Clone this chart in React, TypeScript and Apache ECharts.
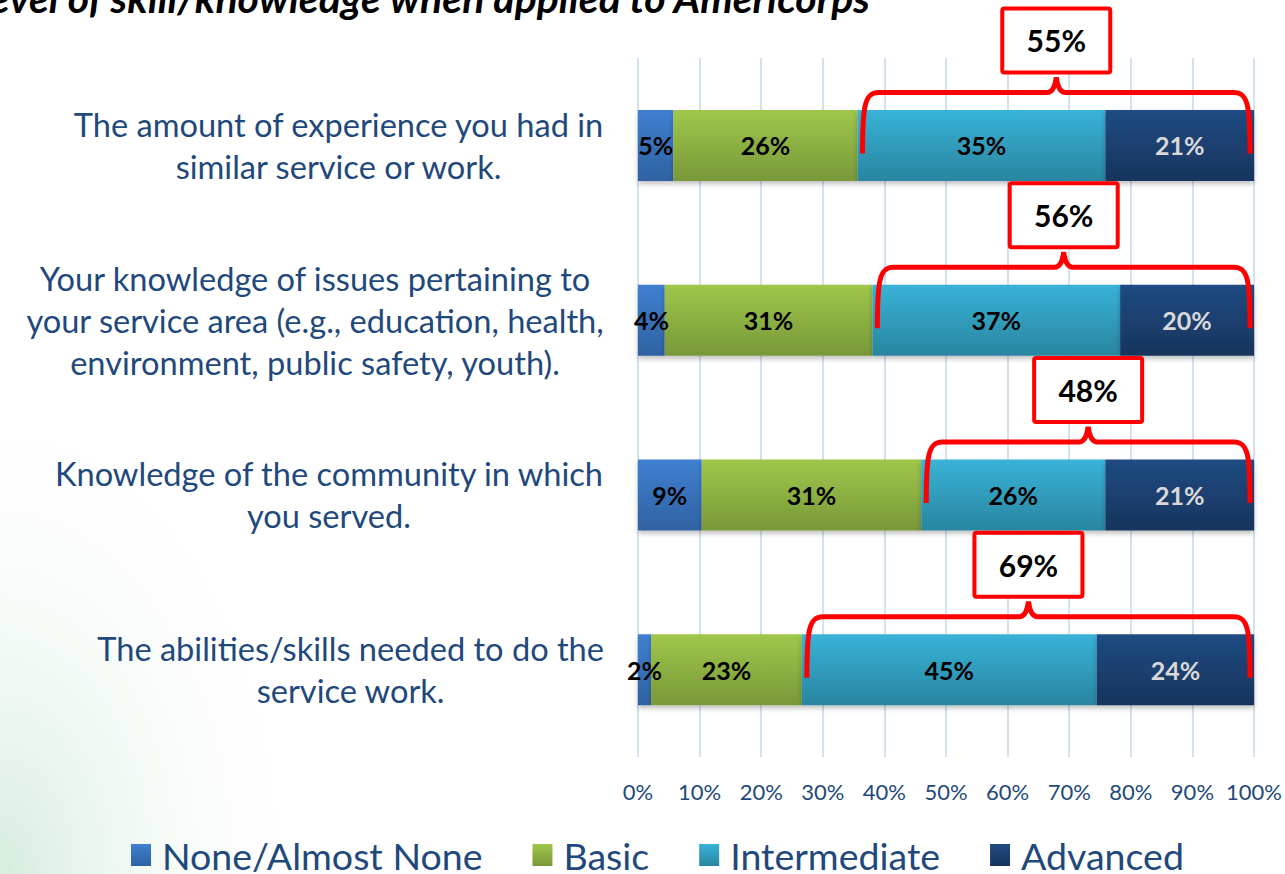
import React, { useEffect, useRef } from "react";
import * as echarts from "echarts";

const categories = [
  "The amount of experience you had in\nsimilar service or work.",
  "Your knowledge of issues pertaining to\nyour service area (e.g., education, health,\nenvironment, public safety, youth).",
  "Knowledge of the community in which\nyou served.",
  "The abilities/skills needed to do the\nservice work.",
];
const seriesNames = ["None/Almost None", "Basic", "Intermediate", "Advanced"];
const noneValues = [5, 4, 9, 2];
const basicValues = [26, 31, 31, 23];
const intermediateValues = [35, 37, 26, 45];
const advancedValues = [21, 20, 21, 24];
const combinedLabels = [55, 56, 48, 69];
const xTicks = [0, 10, 20, 30, 40, 50, 60, 70, 80, 90, 100];

const FONT = "Lato";
const TEXT_BLUE = "#1f497d";

const grad = (top: string, bottom: string) => ({
  type: "linear",
  x: 0,
  y: 0,
  x2: 0,
  y2: 1,
  colorStops: [
    { offset: 0, color: top },
    { offset: 1, color: bottom },
  ],
});

const colors = [
  grad("#3f80d0", "#2f62a3"),
  grad("#a0c74b", "#789839"),
  grad("#38b3d7", "#2985a0"),
  grad("#204b82", "#17345d"),
];
const labelColors = ["#000000", "#000000", "#000000", "#d9d9d9"];

export default function App() {
  const ref = useRef<HTMLDivElement>(null);
  useEffect(() => {
    if (!ref.current) return;
    const chart = echarts.init(ref.current, undefined, { renderer: "svg" });
    const raw = [noneValues, basicValues, intermediateValues, advancedValues];
    const totals = categories.map((_, i) => raw.reduce((s, arr) => s + arr[i], 0));
    const shares = raw.map((arr) => arr.map((v, i) => (v / totals[i]) * 100));

    const braceData = categories.map((_, i) => {
      const start = shares[0][i] + shares[1][i];
      return [start, 100, i, combinedLabels[i]];
    });

    const series: any[] = seriesNames.map((name, si) => ({
      name,
      type: "bar",
      stack: "total",
      barWidth: 71,
      data: shares[si],
      itemStyle: {
        color: colors[si],
        shadowBlur: 5,
        shadowOffsetY: 3,
        shadowColor: "rgba(0,0,0,0.25)",
      },
      label: {
        show: true,
        position: "inside",
        fontFamily: FONT,
        fontWeight: "bold",
        fontSize: 25,
        color: labelColors[si],
        formatter: (p: any) => raw[si][p.dataIndex] + "%",
      },
    }));

    series.push({
      type: "custom",
      name: "brace",
      coordinateSystem: "cartesian2d",
      clip: false,
      z: 10,
      encode: { x: [0, 1], y: 2 },
      data: braceData,
      renderItem: (params: any, api: any) => {
        const s = api.coord([api.value(0), api.value(2)]);
        const e = api.coord([api.value(1), api.value(2)]);
        const cy = s[1];
        const L = s[0] + 5;
        const R = e[0] - 4;
        const top = cy - 53;
        const peak = cy - 68;
        const bottom = cy + 8;
        const mid = (L + R) / 2;
        const d =
          `M ${L} ${bottom} C ${L} ${top + 14} ${L + 2} ${top} ${L + 16} ${top} ` +
          `L ${mid - 9} ${top} Q ${mid - 2} ${top} ${mid} ${peak} ` +
          `Q ${mid + 2} ${top} ${mid + 9} ${top} ` +
          `L ${R - 16} ${top} C ${R - 2} ${top} ${R} ${top + 14} ${R} ${bottom}`;
        return {
          type: "group",
          children: [
            {
              type: "path",
              shape: { pathData: d },
              style: { fill: "none", stroke: "#ff0000", lineWidth: 5 },
            },
            {
              type: "rect",
              shape: { x: mid - 54, y: cy - 137, width: 108, height: 64, r: 2 },
              style: { fill: "#ffffff", stroke: "#ff0000", lineWidth: 4 },
            },
            {
              type: "text",
              x: mid,
              y: cy - 105,
              style: {
                text: api.value(3) + "%",
                fontFamily: FONT,
                fontWeight: "bold",
                fontSize: 30,
                fill: "#000000",
                align: "center",
                verticalAlign: "middle",
              },
            },
          ],
        };
      },
    });

    chart.setOption({
      animation: false,
      backgroundColor: "#ffffff",
      graphic: [
        {
          type: "rect",
          z: -10,
          silent: true,
          shape: { x: 0, y: 374, width: 320, height: 500 },
          style: {
            fill: {
              type: "radial",
              x: 0,
              y: 1,
              r: 1,
              colorStops: [
                { offset: 0, color: "rgba(196,228,208,0.7)" },
                { offset: 1, color: "rgba(255,255,255,0)" },
              ],
            },
          },
        },
        {
          type: "text",
          x: 870,
          y: 18,
          style: {
            text: "Level of skill/knowledge when applied to Americorps",
            fontFamily: FONT,
            fontStyle: "italic",
            fontWeight: "bold",
            fontSize: 41,
            fill: "#000000",
            align: "right",
            verticalAlign: "bottom",
          },
        },
      ],
      legend: {
        data: seriesNames,
        left: 126,
        top: 831,
        itemWidth: 20,
        itemHeight: 22,
        itemGap: 50,
        icon: "rect",
        textStyle: {
          fontFamily: FONT,
          fontSize: 37.5,
          lineHeight: 36,
          color: TEXT_BLUE,
          padding: [0, 0, 0, 6],
        },
      },
      grid: { left: 638, right: 29, top: 58, bottom: 117 },
      xAxis: {
        type: "value",
        min: 0,
        max: 100,
        interval: 10,
        axisLine: { show: false },
        axisTick: { show: false },
        axisLabel: {
          margin: 23,
          fontFamily: FONT,
          fontSize: 22,
          color: TEXT_BLUE,
          formatter: (v: number) => (xTicks.includes(v) ? v + "%" : ""),
        },
        splitLine: { show: true, lineStyle: { color: "#d4e1f1", width: 2 } },
      },
      yAxis: {
        type: "category",
        inverse: true,
        data: categories,
        axisLine: { show: false },
        axisTick: { show: false },
        axisLabel: {
          align: "right",
          margin: 34,
          formatter: (v: string) =>
            v
              .split("\n")
              .map((l) => `{c|${l}}`)
              .join("\n"),
          rich: {
            c: {
              align: "center",
              fontFamily: FONT,
              fontSize: 32.6,
              lineHeight: 42,
              color: TEXT_BLUE,
            },
          },
        },
      },
      series,
    });
    return () => chart.dispose();
  }, []);
  return (
    <div
      ref={ref}
      style={{ position: "fixed", left: 0, top: 0, width: 1285, height: 874 }}
    />
  );
}
